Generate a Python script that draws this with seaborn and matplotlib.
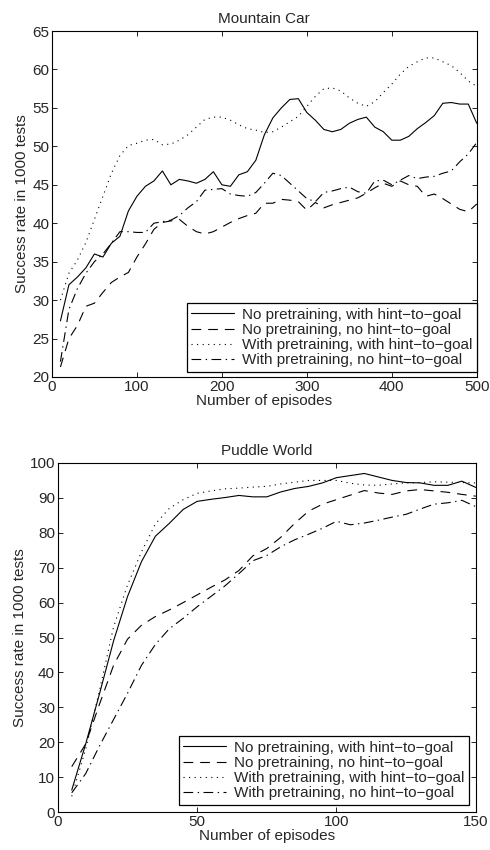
import numpy as np
import pandas as pd
import seaborn as sns
import matplotlib
matplotlib.use("Agg")
import matplotlib.pyplot as plt

#%%
# legend names, same for both panels
names = ["No pretraining, with hint\u2212to\u2212goal",
         "No pretraining, no hint\u2212to\u2212goal",
         "With pretraining, with hint\u2212to\u2212goal",
         "With pretraining, no hint\u2212to\u2212goal"]

# Mountain Car: episodes 10..500
mc_episodes = np.arange(10, 501, 10)
mc_nopre_hint = [27.3, 32.0, 33.0, 34.2, 36.0, 35.6, 37.4, 38.3, 41.6, 43.5,
                 44.8, 45.5, 46.8, 45.0, 45.7, 45.5, 45.2, 45.7, 46.7, 45.0,
                 44.8, 46.3, 46.7, 48.2, 51.5, 53.7, 55.0, 56.1, 56.2, 54.4,
                 53.4, 52.2, 51.9, 52.2, 53.0, 53.5, 53.8, 52.5, 51.9, 50.8,
                 50.8, 51.3, 52.3, 53.1, 54.0, 55.6, 55.7, 55.5, 55.5, 53.0]
mc_nopre_nohint = [21.3, 25.0, 26.7, 29.2, 29.6, 31.0, 32.3, 33.0, 33.6, 35.6,
                   37.3, 39.2, 40.1, 40.3, 40.5, 39.6, 38.9, 38.6, 38.9, 39.5,
                   40.1, 40.6, 41.0, 41.3, 42.6, 42.6, 43.1, 43.0, 42.8, 41.7,
                   42.7, 42.0, 42.4, 42.7, 43.0, 43.3, 43.9, 44.6, 45.2, 44.8,
                   45.5, 45.0, 44.8, 43.5, 43.8, 43.2, 42.5, 41.8, 41.5, 42.5]
mc_pre_hint = [30.0, 33.5, 35.2, 37.5, 40.5, 43.5, 46.5, 48.8, 50.1, 50.4,
               50.8, 50.9, 50.2, 50.3, 50.8, 51.5, 52.5, 53.5, 53.8, 53.8,
               53.4, 52.8, 52.3, 52.1, 51.8, 51.9, 52.5, 53.2, 53.9, 55.2,
               56.5, 57.5, 57.6, 57.2, 56.3, 55.6, 55.2, 55.8, 57.0, 58.1,
               59.4, 60.4, 61.0, 61.5, 61.5, 61.0, 60.5, 59.6, 58.5, 57.8]
mc_pre_nohint = [22.0, 28.8, 31.5, 33.5, 35.0, 36.0, 37.4, 38.9, 38.9, 38.8,
                 38.8, 40.0, 40.2, 40.4, 41.0, 42.0, 42.8, 44.3, 44.4, 44.5,
                 43.8, 43.6, 43.5, 44.0, 45.2, 46.5, 46.2, 45.2, 44.2, 43.2,
                 42.8, 44.0, 44.2, 44.5, 44.7, 44.1, 43.9, 45.5, 45.6, 45.0,
                 45.6, 46.2, 45.8, 46.0, 46.1, 46.5, 46.8, 48.0, 49.0, 50.5]

# Puddle World: episodes 5..150
pw_episodes = np.arange(5, 151, 5)
pw_nopre_hint = [6.3, 19.5, 34.0, 49.0, 61.7, 71.7, 79.0, 82.7, 86.7, 89.0,
                 89.6, 90.1, 90.7, 90.3, 90.3, 91.7, 92.7, 93.3, 94.3, 95.8,
                 96.4, 97.0, 96.0, 95.0, 94.4, 94.3, 93.6, 93.6, 94.8, 93.0]
pw_nopre_nohint = [13.0, 19.5, 31.0, 42.0, 49.5, 53.5, 56.0, 57.9, 60.0, 62.2,
                   64.4, 66.5, 69.2, 73.4, 75.5, 78.7, 82.7, 86.2, 88.2, 89.5,
                   90.8, 92.1, 91.4, 91.0, 92.0, 92.4, 92.0, 91.6, 91.0, 90.5]
pw_pre_hint = [4.5, 18.0, 35.0, 53.0, 65.0, 74.5, 82.5, 87.0, 89.5, 91.3,
               92.0, 92.6, 92.8, 93.1, 93.3, 94.0, 94.5, 95.0, 95.0, 95.0,
               94.2, 93.7, 93.6, 94.0, 94.3, 94.4, 94.6, 94.5, 94.4, 94.3]
pw_pre_nohint = [5.5, 11.0, 19.0, 26.5, 34.0, 42.0, 48.0, 52.5, 55.5, 58.8,
                 61.8, 64.8, 68.3, 72.0, 73.5, 76.0, 78.0, 79.6, 81.3, 83.3,
                 82.3, 82.8, 83.6, 84.5, 85.3, 86.8, 88.2, 88.6, 89.3, 87.5]

#%%
sns.set_style("ticks")
plt.rcParams["font.family"] = ["Liberation Sans", "DejaVu Sans"]
plt.rcParams["xtick.direction"] = "in"
plt.rcParams["ytick.direction"] = "in"
plt.rcParams["xtick.top"] = True
plt.rcParams["ytick.right"] = True
plt.rcParams["lines.scale_dashes"] = False

fs = 11
dash_map = {names[0]: "",
            names[1]: (7, 5),
            names[2]: (0.8, 3.2),
            names[3]: (7, 3.2, 1, 3.2)}


def long_df(episodes, series):
    frames = []
    for name, vals in zip(names, series):
        frames.append(pd.DataFrame({"episodes": episodes, "rate": vals, "method": name}))
    return pd.concat(frames, ignore_index=True)


def draw_panel(ax, df, title, xlim, xticks, ylim, yticks, anchor):
    sns.lineplot(data=df, x="episodes", y="rate", style="method", style_order=names,
                 dashes=dash_map, color="black", linewidth=0.8, ax=ax)
    ax.set_xlim(*xlim)
    ax.set_ylim(*ylim)
    ax.set_xticks(xticks)
    ax.set_yticks(yticks)
    ax.tick_params(labelsize=fs, length=3.5, width=0.6, color="black", pad=2)
    ax.set_xlabel("Number of episodes", fontsize=fs, labelpad=0)
    ax.set_ylabel("Success rate in 1000 tests", fontsize=fs, labelpad=2)
    ax.set_title(title, fontsize=fs, pad=6)
    for sp in ax.spines.values():
        sp.set_linewidth(0.8)
        sp.set_color("black")
    handles, labels = ax.get_legend_handles_labels()
    ax.legend(handles, labels, loc="lower right", bbox_to_anchor=anchor,
              borderaxespad=0, fontsize=fs, frameon=True, fancybox=False,
              edgecolor="black", framealpha=1, handlelength=2.8,
              handletextpad=0.5, borderpad=0.3, labelspacing=0.08)
    ax.get_legend().get_frame().set_linewidth(0.9)


fig = plt.figure(figsize=(4.9, 8.5), dpi=100)
ax1 = fig.add_axes([0.106, 0.5565, 0.867, 0.407])
ax2 = fig.add_axes([0.118, 0.0447, 0.853, 0.4106])

mc_df = long_df(mc_episodes, [mc_nopre_hint, mc_nopre_nohint, mc_pre_hint, mc_pre_nohint])
pw_df = long_df(pw_episodes, [pw_nopre_hint, pw_nopre_nohint, pw_pre_hint, pw_pre_nohint])

draw_panel(ax1, mc_df, "Mountain Car", (0, 500), [0, 100, 200, 300, 400, 500],
           (20, 65), np.arange(20, 66, 5), (1.0, 0.0145))
draw_panel(ax2, pw_df, "Puddle World", (0, 150), [0, 50, 100, 150],
           (0, 100), np.arange(0, 101, 10), (0.983, 0.02))

fig.savefig("out.png", dpi=100)
